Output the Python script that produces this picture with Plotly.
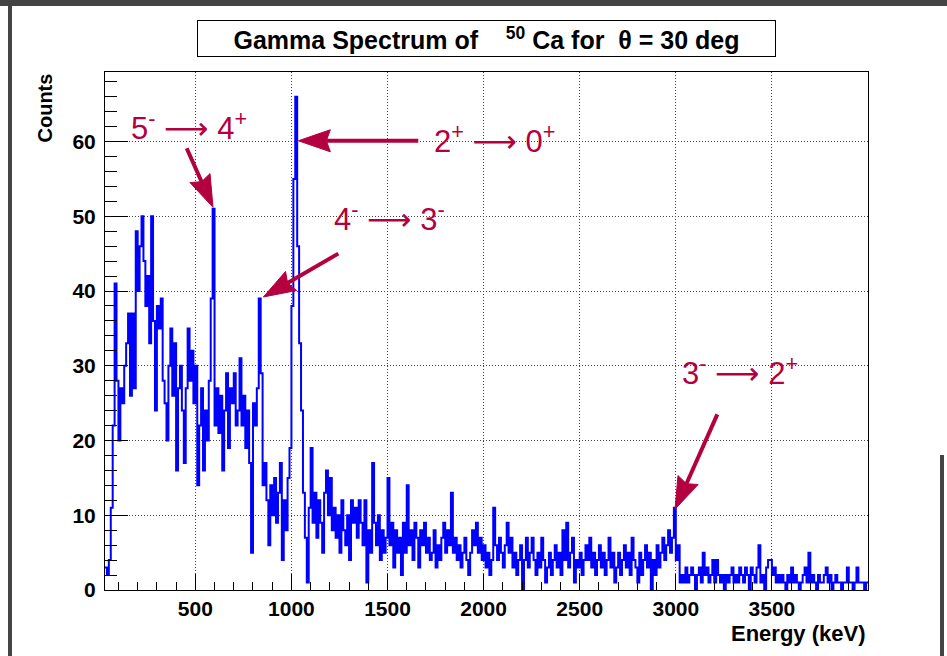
import plotly.graph_objects as go

# ---------------- data ----------------
BIN_START = 30      # keV, lower edge of first bin
BIN_WIDTH = 10      # keV
counts = [
    3, 2, 4, 11, 22, 41, 28, 20, 27, 25,        # 30-129
    30, 33, 37, 26, 37, 27, 48, 40, 46, 50,     # 130-229
    44, 38, 42, 33, 50, 36, 24, 38, 35, 39,     # 230-329
    28, 25, 20, 30, 35, 26, 33, 16, 27, 30,     # 330-429
    24, 17, 27, 35, 28, 32, 25, 30, 14, 22,     # 430-529
    27, 16, 24, 20, 28, 39, 51, 22, 27, 21,     # 530-629
    26, 16, 24, 29, 19, 27, 25, 29, 22, 24,     # 630-729
    31, 22, 26, 19, 24, 17, 5, 25, 22, 27,      # 730-829
    39, 29, 14, 17, 12, 6, 14, 10, 15, 9,       # 830-929
    13, 17, 4, 12, 8, 15, 19, 38, 55, 66,       # 930-1029
    46, 33, 24, 13, 7, 1, 11, 19, 9, 13,        # 1030-1129
    7, 12, 9, 5, 13, 16, 10, 15, 8, 11,         # 1130-1229
    7, 10, 5, 12, 8, 6, 10, 4, 12, 9,           # 1230-1329
    11, 7, 12, 9, 6, 12, 1, 8, 5, 17,           # 1330-1429
    9, 6, 10, 4, 8, 5, 7, 15, 6, 9,             # 1430-1529
    3, 8, 5, 7, 2, 9, 5, 14, 6, 8,              # 1530-1629
    4, 9, 7, 3, 8, 6, 9, 5, 7, 4,               # 1630-1729
    5, 8, 3, 6, 4, 7, 9, 5, 8, 6,               # 1730-1829
    13, 5, 7, 4, 6, 3, 5, 7, 4, 2,              # 1830-1929
    5, 8, 6, 9, 5, 7, 4, 6, 3, 5,               # 1930-2029
    2, 4, 11, 6, 4, 7, 5, 3, 6, 9,              # 2030-2129
    5, 7, 3, 5, 2, 4, 6, 0, 4, 7,               # 2130-2229
    3, 5, 7, 4, 2, 5, 3, 7, 4, 1,               # 2230-2329
    3, 5, 2, 4, 6, 3, 5, 2, 8, 4,               # 2330-2429
    9, 3, 5, 7, 1, 4, 3, 5, 2, 4,               # 2430-2529
    6, 4, 7, 3, 5, 2, 4, 6, 3, 5,               # 2530-2629
    2, 4, 7, 3, 5, 1, 3, 5, 2, 4,               # 2630-2729
    6, 3, 5, 2, 7, 4, 3, 1, 5, 2,               # 2730-2829
    4, 6, 3, 5, 0, 4, 2, 6, 3, 5,               # 2830-2929
    7, 4, 6, 8, 5, 7, 11, 4, 6, 1,              # 2930-3029
    2, 1, 3, 1, 2, 3, 2, 0, 2, 3,               # 3030-3129
    1, 5, 2, 3, 1, 2, 4, 1, 4, 2,               # 3130-3229
    1, 2, 0, 2, 1, 2, 3, 1, 2, 1,               # 3230-3329
    3, 2, 1, 3, 2, 0, 3, 2, 1, 3,               # 3330-3429
    6, 1, 2, 0, 3, 4, 4, 2, 3, 1,               # 3430-3529
    2, 1, 2, 1, 0, 2, 1, 3, 1, 2,               # 3530-3629
    1, 0, 1, 2, 3, 1, 5, 1, 2, 1,               # 3630-3729
    0, 2, 1, 1, 2, 3, 1, 2, 0, 1,               # 3730-3829
    2, 1, 1, 0, 1, 1, 3, 1, 1, 0,               # 3830-3929
    1, 3, 1, 1, 1, 0, 1,                        # 3930-3999
]

x_tick_values = [500, 1000, 1500, 2000, 2500, 3000, 3500]
y_tick_values = [0, 10, 20, 30, 40, 50, 60]

ARROW = "<span style=\"font-family:'DejaVu Sans'\">\u27f6</span>"
labels = ["5<sup>-</sup> " + ARROW + " 4<sup>+</sup>", "2<sup>+</sup> " + ARROW + " 0<sup>+</sup>",
          "4<sup>-</sup> " + ARROW + " 3<sup>-</sup>", "3<sup>-</sup> " + ARROW + " 2<sup>+</sup>"]
label_pos = [(467, 62.1), (2059, 60.3), (1508, 49.9), (3334, 29.3)]
arrow_tail = [(455, 59.1), (1660, 60.1), (1244, 45.0), (3216, 23.5)]
arrow_tip = [(592, 51.2), (1036, 60.1), (854, 39.2), (2996, 10.8)]

XMIN, XMAX = 30, 4000
YMIN, YMAX = 0, 69.3

# ---------------- geometry ----------------
W, H = 947, 656
ML, MR, MT, MB = 105, 79, 72, 66
PW, PH = W - ML - MR, H - MT - MB


def to_px(e, c):
    return ML + (e - XMIN) * PW / (XMAX - XMIN), MT + (YMAX - c) * PH / (YMAX - YMIN)


def to_data(px, py):
    return XMIN + (px - ML) * (XMAX - XMIN) / PW, YMAX - (py - MT) * (YMAX - YMIN) / PH


def px_to_paper(px, py):
    return (px - ML) / PW, (MT + PH - py) / PH


edges = [BIN_START + BIN_WIDTH * i for i in range(len(counts) + 1)]
yvals = counts + [counts[-1]]

fig = go.Figure()
fig.add_trace(go.Scatter(x=edges, y=yvals, mode="lines", line=dict(color="#0000ff", width=2, shape="hv"),
                         hoverinfo="skip", showlegend=False))

RED = "#b5003f"
shapes = []
annotations = []
for txt, lp, tail, tip in zip(labels, label_pos, arrow_tail, arrow_tip):
    tx, ty = to_px(*tail)
    hx, hy = to_px(*tip)
    dx, dy = hx - tx, hy - ty
    ln = (dx * dx + dy * dy) ** 0.5
    ux, uy = dx / ln, dy / ln
    nx, ny = -uy, ux
    L, Wd = 32, 11
    bx, by = hx - ux * L, hy - uy * L
    notch = (hx - ux * (L - 4), hy - uy * (L - 4))
    p1 = (bx + nx * Wd, by + ny * Wd)
    p2 = (bx - nx * Wd, by - ny * Wd)
    pts = [to_data(hx, hy), to_data(*p1), to_data(*notch), to_data(*p2)]
    path = "M " + " L ".join(f"{a:.3f},{b:.3f}" for a, b in pts) + " Z"
    sx, sy = to_data(*notch)
    shapes.append(dict(type="line", xref="x", yref="y", x0=tail[0], y0=tail[1], x1=sx, y1=sy,
                       line=dict(color=RED, width=4)))
    shapes.append(dict(type="path", xref="x", yref="y", path=path, fillcolor=RED, line=dict(color=RED, width=1)))
    annotations.append(dict(x=lp[0], y=lp[1], xref="x", yref="y", text=txt, showarrow=False,
                            font=dict(family="Liberation Sans", size=31, color=RED),
                            xanchor="center", yanchor="middle"))

# title box
tx0, ty0 = px_to_paper(486.5, 38.5)
annotations.append(dict(x=tx0, y=ty0, xref="paper", yref="paper", xanchor="center", yanchor="middle",
                        text="Gamma Spectrum of\u00a0\u00a0\u00a0 <sup>50</sup> Ca for\u00a0 \u03b8 = 30 deg",
                        showarrow=False, width=575, height=33, bgcolor="white", bordercolor="black",
                        borderwidth=1, borderpad=1,
                        font=dict(family="Liberation Sans", size=25, color="black", weight="bold")))

# axis titles
cx, cy = px_to_paper(44, 72)
annotations.append(dict(x=cx, y=cy, xref="paper", yref="paper", xanchor="center", yanchor="top",
                        text="Counts", textangle=-90, showarrow=False,
                        font=dict(family="Liberation Sans", size=20, color="black", weight="bold")))
ex, ey = px_to_paper(868, 633)
annotations.append(dict(x=ex, y=ey, xref="paper", yref="paper", xanchor="right", yanchor="middle",
                        text="Energy (keV)", showarrow=False,
                        font=dict(family="Liberation Sans", size=22, color="black", weight="bold")))

# canvas border (drawn in paper coordinates)
BORDER = "#444444"
for (x0, y0, x1, y1) in [(0, 0, W, 6), (8, 0, 12, H), (940, 455, 944, H)]:
    a0, b0 = px_to_paper(x0, y0)
    a1, b1 = px_to_paper(x1, y1)
    shapes.append(dict(type="rect", xref="paper", yref="paper", x0=a0, y0=b0, x1=a1, y1=b1,
                       fillcolor=BORDER, line=dict(width=0), layer="above"))

tickfont = dict(family="Liberation Sans", size=21, color="black", weight="bold")
grid = dict(showgrid=True, gridcolor="#444444", gridwidth=1, griddash="1px,2px")

fig.update_layout(
    width=W, height=H, margin=dict(l=ML, r=MR, t=MT, b=MB, autoexpand=False),
    paper_bgcolor="white", plot_bgcolor="white",
    shapes=shapes, annotations=annotations, showlegend=False,
    xaxis=dict(range=[XMIN, XMAX], tickmode="array", tickvals=x_tick_values, ticks="inside", ticklen=16,
               tickwidth=1, tickcolor="black", showline=True, linecolor="black", linewidth=1, mirror=True,
               zeroline=False, tickfont=tickfont, ticklabelstandoff=0,
               minor=dict(tick0=0, dtick=100, ticks="inside", ticklen=8, tickcolor="black", showgrid=False),
               **grid),
    yaxis=dict(range=[YMIN, YMAX], tickmode="array", tickvals=y_tick_values, ticks="inside", ticklen=23,
               tickwidth=1, tickcolor="black", showline=True, linecolor="black", linewidth=1, mirror=True,
               zeroline=False, tickfont=tickfont, ticklabelstandoff=4,
               minor=dict(tick0=0, dtick=2, ticks="inside", ticklen=12, tickcolor="black", showgrid=False),
               **grid),
)

fig.write_html("out.html")
